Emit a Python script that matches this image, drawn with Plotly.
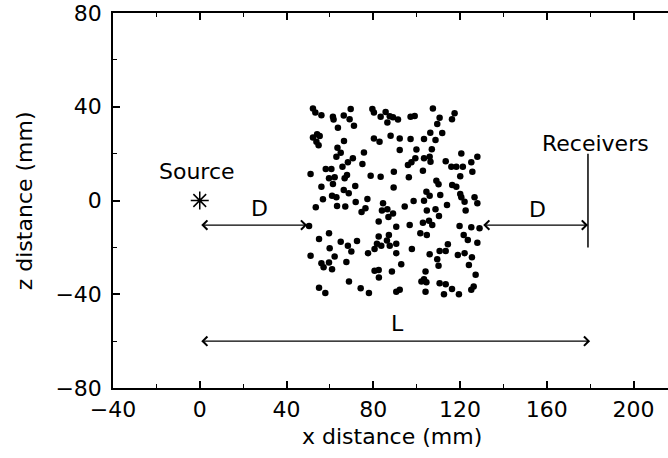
import plotly.graph_objects as go

# scatterer positions (mm)
x_mm = [
    52.2, 53.3, 56.1, 61.4, 61.7, 66.4, 69.6, 69.1, 71.1, 63.7, 79.6, 80.3, 83.4, 85.7, 87.6, 89.1, 86.5,
    52.2, 54.1, 55.3, 53.8, 54.8, 66.5, 63.5, 65.0, 63.0, 75.7, 70.6, 68.3, 75.0, 80.3, 82.9, 88.0, 65.8,
    107.5, 91.4, 97.2, 99.1, 110.6, 109.5, 117.5, 116.3, 92.2, 97.2, 103.4, 106.3, 108.7, 111.8, 92.2,
    99.9, 107.0, 99.4, 103.4, 106.0, 106.4, 97.6, 96.0, 113.4, 116.0, 118.3, 121.3, 120.6, 125.2, 128.0,
    51.1, 58.1, 60.7, 59.6, 62.2, 66.8, 67.9, 78.8, 83.4, 89.5, 56.1, 61.4, 66.4, 68.7, 71.7, 89.4,
    56.8, 61.0, 63.0, 53.5, 63.3, 67.1, 71.9, 77.3, 74.6, 76.4, 84.5, 84.0, 86.5, 89.1, 87.0, 82.5, 90.6, 50.4,
    102.9, 125.7, 96.4, 120.1, 109.1, 110.1, 116.4, 118.3, 104.5, 106.0, 98.6, 103.4, 110.9, 120.1, 120.6,
    126.7, 122.1, 128.0, 94.5, 104.7, 108.7, 114.0, 110.3, 122.6, 96.8, 102.9, 105.7, 107.2, 119.8, 125.2, 129.0,
    59.6, 82.5, 87.2, 55.0, 65.0, 72.5, 68.3, 59.9, 69.9, 81.7, 83.7, 80.6, 86.3, 87.6, 90.6, 77.6, 90.6,
    51.1, 62.2, 56.1, 57.1, 59.6, 67.6, 61.0, 80.6, 82.5, 82.6, 88.6, 68.8, 55.0, 57.9, 74.2, 78.0, 90.6,
    101.7, 104.7, 121.7, 123.6, 97.8, 114.4, 128.0, 106.0, 110.6, 113.4, 119.0, 122.1, 125.5, 109.5, 92.9,
    110.1, 124.1, 104.1, 127.2, 102.2, 103.4, 104.5, 110.6, 113.4, 116.3, 104.1, 112.6, 119.5, 125.2, 126.3, 92.2,
]
z_mm = [
    39.3, 37.6, 36.4, 35.7, 34.6, 36.3, 39.0, 34.7, 31.9, 31.0, 39.0, 37.6, 35.7, 37.8, 36.0, 35.5, 33.3,
    26.9, 28.3, 27.5, 25.1, 23.6, 25.4, 22.5, 20.4, 18.7, 20.5, 18.0, 16.3, 15.6, 26.5, 25.1, 27.6, 14.4,
    39.3, 34.6, 35.7, 36.1, 35.3, 32.6, 37.2, 34.7, 26.5, 26.2, 26.2, 28.9, 25.8, 28.8, 21.5,
    21.8, 21.9, 18.0, 18.0, 18.7, 16.5, 16.3, 15.1, 16.8, 14.4, 14.4, 14.4, 20.1, 16.3, 18.7,
    11.3, 13.4, 13.4, 9.5, 9.9, 9.5, 10.9, 10.6, 10.1, 12.3, 5.9, 7.0, 4.5, 3.1, 6.2, 5.6,
    0.5, 2.0, 1.4, -2.9, -2.3, -2.6, -0.6, 0.6, -4.9, -3.3, -1.2, -4.3, -3.7, -5.5, -7.0, -9.0, -11.2, -10.9,
    12.7, 12.3, 9.9, 10.4, 8.4, 6.9, 6.6, 5.9, 3.7, 2.0, -0.2, -0.1, 2.3, 2.8, 1.4,
    1.4, -0.5, -1.2, -2.6, -4.3, -3.7, -1.9, -6.6, -4.3, -10.4, -9.5, -8.6, -10.4, -10.9, -11.4, -11.8,
    -14.0, -15.4, -14.7, -16.4, -17.6, -17.3, -19.3, -20.4, -21.8, -18.5, -19.3, -20.7, -17.1, -19.3, -18.5, -22.5, -22.5,
    -23.6, -23.9, -26.8, -28.5, -26.5, -26.2, -29.3, -30.0, -29.6, -32.9, -30.3, -34.6, -37.2, -39.5, -37.4, -39.5, -38.9,
    -14.0, -14.7, -14.7, -16.8, -20.7, -18.7, -18.0, -22.9, -21.5, -21.5, -23.2, -22.5, -24.2, -25.1, -27.2,
    -27.8, -27.5, -30.3, -31.7, -34.6, -33.6, -34.9, -35.3, -35.7, -37.8, -38.9, -40.0, -40.0, -38.1, -36.7, -38.1,
]

# source, receivers and dimension arrows (mm)
source_x = [0]
source_z = [0]
receiver_x = [179, 179]
receiver_z = [-20, 20]
arrow_D1 = [0, 49.5, -10.5]     # x_start, x_end, z
arrow_D2 = [130, 179, -10.5]
arrow_L = [0, 180, -60]

labels = ["Source", "D", "D", "Receivers", "L"]
label_x = [-1.2, 27.5, 155.6, 182.4, 91.0]
label_z = [12.2, -3.5, -4.0, 24.4, -52.5]

x_ticks = [-40, 0, 40, 80, 120, 160, 200]
z_ticks = [-80, -40, 0, 40, 80]

FONT = dict(family="DejaVu Sans", size=22, color="black")

fig = go.Figure()
fig.add_trace(go.Scatter(x=x_mm, y=z_mm, mode="markers",
                         marker=dict(color="black", size=6.5, line=dict(width=0)),
                         hoverinfo="skip", showlegend=False))
fig.add_trace(go.Scatter(x=source_x, y=source_z, mode="markers",
                         marker=dict(symbol="asterisk-open", size=15, color="black",
                                     line=dict(color="black", width=1.5)),
                         showlegend=False))
fig.add_trace(go.Scatter(x=receiver_x, y=receiver_z, mode="lines",
                         line=dict(color="black", width=1.5), showlegend=False))

for a in (arrow_D1, arrow_D2, arrow_L):
    fig.add_annotation(x=a[1], y=a[2], ax=a[0], ay=a[2], xref="x", yref="y",
                       axref="x", ayref="y", text="", showarrow=True,
                       arrowside="end+start", arrowhead=4, startarrowhead=4,
                       arrowsize=1.4, startarrowsize=1.4, arrowwidth=1.3,
                       arrowcolor="black", standoff=0, startstandoff=0)

for t, lx, lz in zip(labels, label_x, label_z):
    fig.add_annotation(x=lx, y=lz, xref="x", yref="y", text=t, showarrow=False,
                       font=FONT, xanchor="center", yanchor="middle")

fig.add_annotation(x=0.503, y=-0.13, xref="paper", yref="paper", text="x distance (mm)",
                   showarrow=False, font=FONT, xanchor="center", yanchor="middle")
fig.add_annotation(x=-0.159, y=0.5, xref="paper", yref="paper", text="z distance (mm)",
                   showarrow=False, font=FONT, xanchor="center", yanchor="middle",
                   textangle=-90)

fig.update_xaxes(range=[-40, 215.9], tickvals=x_ticks, ticks="inside", ticklen=7,
                 tickwidth=1.5, tickcolor="black", showline=True, linewidth=1.5,
                 linecolor="black", mirror="ticks", showgrid=False, zeroline=False,
                 minor=dict(ticks="inside", dtick=20, ticklen=4, tickwidth=1.2,
                            tickcolor="black", showgrid=False),
                 tickfont=FONT, ticklabelstandoff=1, automargin=False)
fig.update_yaxes(range=[-80, 80], tickvals=z_ticks, ticks="inside", ticklen=7,
                 tickwidth=1.5, tickcolor="black", showline=True, linewidth=1.5,
                 linecolor="black", mirror=False, showgrid=False, zeroline=False,
                 minor=dict(ticks="inside", dtick=20, ticklen=4, tickwidth=1.2,
                            tickcolor="black", showgrid=False),
                 tickfont=FONT, ticklabelstandoff=5, automargin=False)

fig.update_layout(template="none", width=668, height=458,
                  plot_bgcolor="white", paper_bgcolor="white",
                  margin=dict(l=113.4, r=0, t=12.7, b=69.7, pad=0, autoexpand=False),
                  showlegend=False)

# remove the default 8px page margin so the figure fills the window
fig.write_html("out.html", config={"displayModeBar": False},
               post_script="document.body.style.margin='0';")
